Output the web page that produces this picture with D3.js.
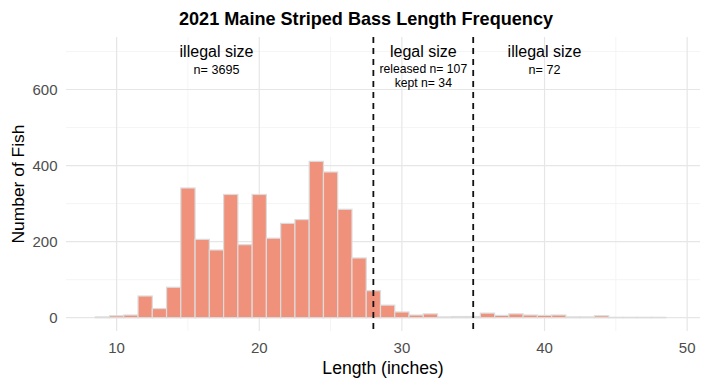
<!DOCTYPE html>
<html>
<head>
<meta charset="utf-8">
<script src="https://cdn.jsdelivr.net/npm/d3@7"></script>
<style>
  body { margin: 0; background: #fff; }
  text { font-family: "Liberation Sans", Arial, sans-serif; }
</style>
</head>
<body>
<div id="chart"></div>
<script>
// bins of 1 inch, centred on whole numbers
var binCenters = [9, 10, 11, 12, 13, 14, 15, 16, 17, 18, 19, 20, 21, 22, 23, 24, 25, 26, 27, 28,
                  29, 30, 31, 32, 33, 34, 35, 36, 37, 38, 39, 40, 41, 42, 43, 44, 45, 46, 47, 48];
var counts = [2, 5, 7, 57, 24, 80, 341, 206, 178, 324, 192, 324, 209, 248, 258, 411, 383, 285, 157, 71,
              33, 15, 7, 10, 2, 3, 3, 12, 6, 10, 7, 6, 7, 2, 2, 5, 1, 1, 1, 1];
var xTicks = [10, 20, 30, 40, 50];
var xMinor = [15, 25, 35, 45];
var yTicks = [0, 200, 400, 600];
var yMinor = [100, 300, 500, 700];
var cutoffs = [28, 35];
var labels = [
  {x: 17, y: 699, text: "illegal size", size: 16},
  {x: 17, y: 650, text: "n= 3695", size: 12.6},
  {x: 31.5, y: 699, text: "legal size", size: 16},
  {x: 31.5, y: 653, text: "released n= 107", size: 12.2},
  {x: 31.5, y: 617, text: "kept n= 34", size: 12.2},
  {x: 40, y: 699, text: "illegal size", size: 16},
  {x: 40, y: 650, text: "n= 72", size: 12.6}
];

var width = 705, height = 386;
var margin = {top: 37, right: 5, bottom: 55, left: 66};
var chartW = width - margin.left - margin.right,
    chartH = height - margin.top - margin.bottom;

var svg = d3.select('#chart').append('svg')
    .attr('width', width)
    .attr('height', height);

var x = d3.scaleLinear().domain([6.45, 50.9]).range([0, chartW]);
var y = d3.scaleLinear().domain([-35, 738]).range([chartH, 0]);

var g = svg.append('g')
    .attr('transform', 'translate(' + margin.left + ',' + margin.top + ')');

// grid
g.selectAll('.xminor').data(xMinor).enter().append('line')
    .attr('x1', d => x(d)).attr('x2', d => x(d))
    .attr('y1', 0).attr('y2', chartH)
    .attr('stroke', '#f2f2f2').attr('stroke-width', 0.8);
g.selectAll('.yminor').data(yMinor).enter().append('line')
    .attr('y1', d => y(d)).attr('y2', d => y(d))
    .attr('x1', 0).attr('x2', chartW)
    .attr('stroke', '#f2f2f2').attr('stroke-width', 0.8);
g.selectAll('.xmajor').data(xTicks).enter().append('line')
    .attr('x1', d => x(d)).attr('x2', d => x(d))
    .attr('y1', 0).attr('y2', chartH)
    .attr('stroke', '#e6e6e6').attr('stroke-width', 1.2);
g.selectAll('.ymajor').data(yTicks).enter().append('line')
    .attr('y1', d => y(d)).attr('y2', d => y(d))
    .attr('x1', 0).attr('x2', chartW)
    .attr('stroke', '#e6e6e6').attr('stroke-width', 1.2);

// bars
g.selectAll('.bar').data(binCenters).enter().append('rect')
    .attr('class', 'bar')
    .attr('x', d => x(d - 0.5))
    .attr('width', d => x(d + 0.5) - x(d - 0.5))
    .attr('y', (d, i) => y(counts[i]))
    .attr('height', (d, i) => y(0) - y(counts[i]))
    .attr('fill', '#f0927b')
    .attr('stroke', '#dcdcdc')
    .attr('stroke-width', 1.2);

// size limits
g.selectAll('.cut').data(cutoffs).enter().append('line')
    .attr('x1', d => x(d)).attr('x2', d => x(d))
    .attr('y1', 0).attr('y2', chartH)
    .attr('stroke', '#111').attr('stroke-width', 1.8)
    .attr('stroke-dasharray', '6,5');

g.selectAll('.lab').data(labels).enter().append('text')
    .attr('x', d => x(d.x))
    .attr('y', d => y(d.y))
    .attr('text-anchor', 'middle')
    .attr('dominant-baseline', 'central')
    .style('font-size', d => d.size + 'px')
    .attr('fill', '#000')
    .text(d => d.text);

// axes
g.selectAll('.xt').data(xTicks).enter().append('text')
    .attr('x', d => x(d)).attr('y', chartH + 21.5)
    .attr('text-anchor', 'middle')
    .style('font-size', '15px').attr('fill', '#4d4d4d')
    .text(d => d);
g.selectAll('.yt').data(yTicks).enter().append('text')
    .attr('x', -8.5).attr('y', d => y(d) + 5.4)
    .attr('text-anchor', 'end')
    .style('font-size', '15px').attr('fill', '#4d4d4d')
    .text(d => d);

svg.append('text')
    .attr('x', margin.left + chartW / 2).attr('y', 374)
    .attr('text-anchor', 'middle')
    .style('font-size', '17.6px')
    .text('Length (inches)');
svg.append('text')
    .attr('transform', 'translate(24,' + (margin.top + chartH / 2) + ') rotate(-90)')
    .attr('text-anchor', 'middle')
    .style('font-size', '17.4px')
    .text('Number of Fish');

svg.append('text')
    .attr('x', 366).attr('y', 24.5)
    .attr('text-anchor', 'middle')
    .style('font-size', '18.1px')
    .style('font-weight', 'bold')
    .text('2021 Maine Striped Bass Length Frequency');
</script>
</body>
</html>
